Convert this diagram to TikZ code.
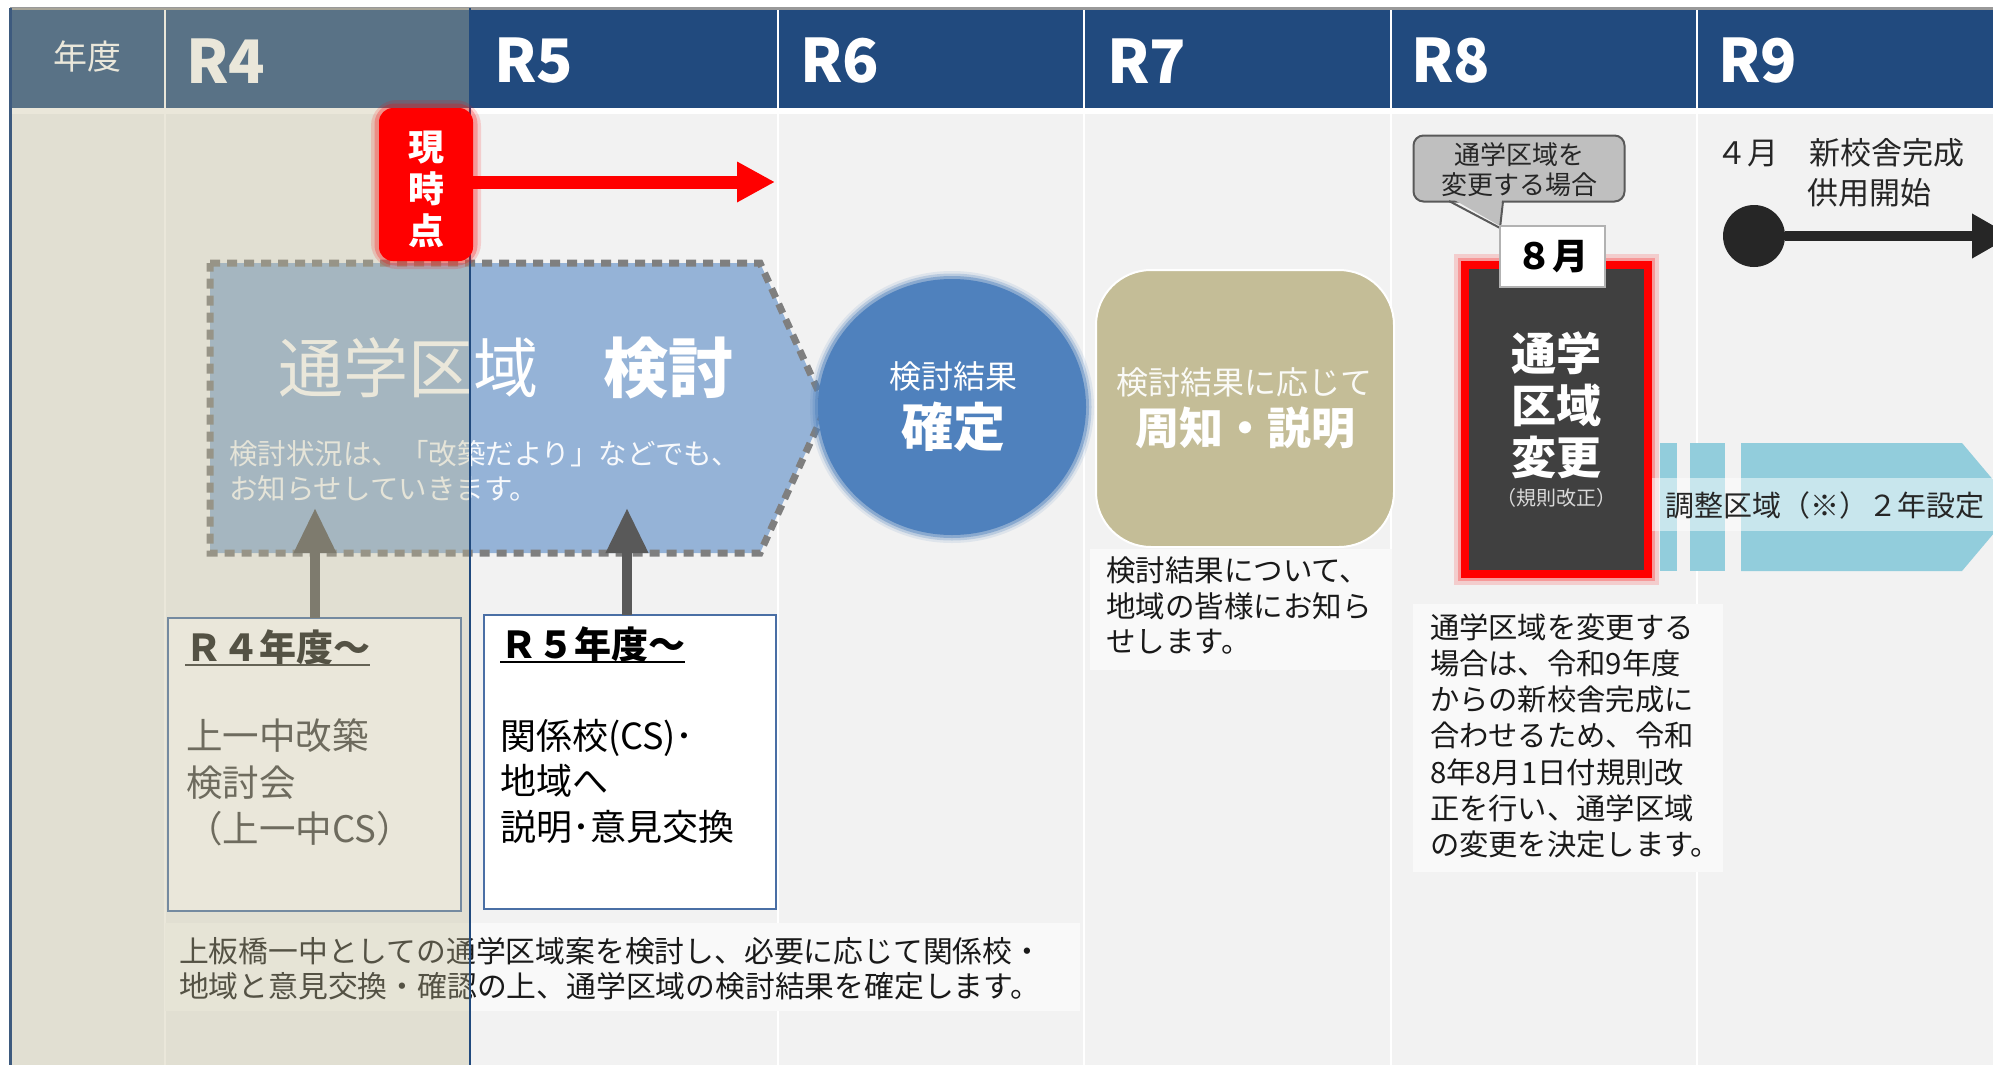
\documentclass[tikz,border=0pt]{standalone}
\usepackage{fontspec}
\setmainfont{Noto Sans CJK JP}
\setsansfont{Noto Sans CJK JP}
\usetikzlibrary{arrows.meta,shapes.geometric}
\definecolor{navy}{HTML}{214A7E}
\definecolor{bodybg}{HTML}{F2F2F2}
\definecolor{penta}{HTML}{95B3D7}
\definecolor{ellc}{HTML}{4F81BD}
\definecolor{tanc}{HTML}{C4BD97}
\definecolor{darkbox}{HTML}{404040}
\definecolor{ltblue}{HTML}{92CDDC}
\definecolor{bubble}{HTML}{BFBFBF}
\definecolor{boxborder}{HTML}{4A6FA5}
\definecolor{arrgray}{HTML}{595959}
\definecolor{dashgray}{HTML}{7F7F7F}
\definecolor{paper}{HTML}{F9F9F9}
\definecolor{nowred}{HTML}{FF0000}
\newcommand\fsz[2]{\fontsize{#1}{#2}\selectfont}
\begin{document}
\begin{tikzpicture}[x=1pt,y=-1pt,
  every node/.style={inner sep=0pt,outer sep=0pt},
  hdr/.style={anchor=west,text=white,font=\fsz{60}{70}\bfseries},
  colline/.style={white,line width=2.5pt},
  txt/.style={anchor=north west,align=left,text=black!90},
  uparr/.style={arrgray,line width=10pt,-{Triangle[length=45pt,width=40pt]}},
  paperbox/.style={fill=paper,anchor=north west},
  yearbox/.style={draw=boxborder,fill=white,line width=2pt,anchor=north west},
]
\useasboundingbox (0,0) rectangle (1993,1065);
\fill[white] (0,0) rectangle (1993,1065);
% body and header
\fill[bodybg] (10,114) rectangle (1993,1065);
\fill[navy] (10,10) rectangle (1993,108);
\draw[gray!80,line width=3pt] (10,9) -- (1993,9);
\foreach \cx in {165,470,778,1084,1391,1697} \draw[colline] (\cx,10) -- (\cx,1065);
\node[text=white,font=\fsz{34}{40}] (nendo) at (87,57) {年度};
\node[hdr] (r4) at (186,61) {R4};
\node[hdr] (r5) at (494,61) {R5};
\node[hdr] (r6) at (800,61) {R6};
\node[hdr] (r7) at (1107,61) {R7};
\node[hdr] (r8) at (1411,61) {R8};
\node[hdr] (r9) at (1718,61) {R9};

% pentagon
\filldraw[fill=penta,draw=dashgray,line width=7pt,dash pattern=on 10pt off 7pt]
  (210,263) -- (760,263) -- (826,408) -- (760,553) -- (210,553) -- cycle;
\node[anchor=west,text=white,font=\fsz{65}{70}] (ttl) at (278,368) {通学区域　{\bfseries 検討}};
\node[txt,text=white!92!penta,font=\fsz{28.5}{35}] (sub) at (229,440)
  {検討状況は、「改築だより」などでも、\\お知らせしていきます。};

% ellipse with soft edge
\fill[ellc,opacity=.12] (952,407) ellipse [x radius=142pt,y radius=136pt];
\fill[ellc,opacity=.25] (952,407) ellipse [x radius=139.5pt,y radius=133.5pt];
\fill[ellc,opacity=.45] (952,407) ellipse [x radius=137pt,y radius=131pt];
\node[ellipse,fill=ellc,minimum width=268pt,minimum height=256pt] (res) at (952,407) {};
\node[text=white,font=\fsz{32}{36}] (kk) at (953,376) {検討結果};
\node[text=white,font=\fsz{52}{60}\bfseries] (kt) at (953,427) {確定};

% R7
\node[rounded corners=55pt,fill=tanc,draw=white,line width=2pt,minimum width=298pt,minimum height=277pt] (tanbox) at (1245,408.5) {};
\node[text=white!92!tanc,font=\fsz{32}{36}] (tt1) at (1244,382) {検討結果に応じて};
\node[text=white,font=\fsz{44}{50}\bfseries] (tt2) at (1245,428) {周知・説明};
\node[paperbox,minimum width=302pt,minimum height=121pt] (r7note) at (1090,549) {};
\node[txt,font=\fsz{29.5}{35.5}] (r7txt) at (1106,557) {検討結果について、\\地域の皆様にお知ら\\せします。};

% R4 / R5 boxes and arrows
\node[yearbox,minimum width=293pt,minimum height=293pt] (r4box) at (168,618) {};
\node[yearbox,minimum width=292pt,minimum height=294pt] (r5box) at (484,615) {};
\coordinate (a1) at (315,508);
\coordinate (a2) at (627,508);
\draw[uparr] (a1 |- r4box.north) -- (a1);
\draw[uparr] (a2 |- r5box.north) -- (a2);
\node[anchor=west,font=\fsz{37}{40}\bfseries,text=black!90] (h4) at (185,647) {Ｒ４年度～};
\draw[line width=2pt,black!80] (h4.south west) -- (h4.south east);
\node[txt,text=darkbox,font=\fsz{36.5}{46.5}] (b4) at (186,719) {上一中改築\\検討会\\（上一中CS）};
\node[anchor=west,font=\fsz{37}{40}\bfseries,text=black] (h5) at (500,644) {Ｒ５年度～};
\draw[line width=2pt,black] (h5.south west) -- (h5.south east);
\node[txt,text=black,font=\fsz{36}{45.5}] (b5) at (500,719) {関係校(CS)･\\地域へ\\説明･意見交換};

% bottom note
\node[paperbox,minimum width=915pt,minimum height=88pt] (btmbox) at (165,923) {};
\node[txt,font=\fsz{29.8}{35}] (btmtxt) at (179,937)
  {上板橋一中としての通学区域案を検討し、必要に応じて関係校・\\地域と意見交換・確認の上、通学区域の検討結果を確定します。};

% R4 overlay
\fill[tanc,fill opacity=.35] (10,8) rectangle (470,1065);
\draw[navy,line width=2pt] (470,8) -- (470,1065);
\draw[navy!70!gray,line width=3pt] (10,8) -- (10,1065);

% now marker
\draw[nowred,opacity=.15,line width=16pt,rounded corners=18pt] (379,108) rectangle (473,261);
\draw[nowred,opacity=.25,line width=9pt,rounded corners=16pt] (379,108) rectangle (473,261);
\node[fill=nowred,rounded corners=14pt,minimum width=94pt,minimum height=153pt] (now) at (426,184.5) {};
\node[align=center,text=white,font=\fsz{36}{42}\bfseries] (nowt) at (426,189) {現\\時\\点};
\coordinate (redend) at (775,182);
\draw[nowred,line width=13pt,-{Triangle[length=38pt,width=38pt]}] (now.east |- redend) -- (redend);

% R8
\fill[ltblue] (1660,443) rectangle (1677,571);
\fill[ltblue] (1690,443) rectangle (1725,571);
\fill[ltblue] (1741,443) -- (1962,443) -- (2016,507) -- (1962,571) -- (1741,571) -- cycle;
\draw[nowred,opacity=.15,line width=22pt] (1465,265) rectangle (1648,574);
\draw[nowred,opacity=.25,line width=14pt] (1465,265) rectangle (1648,574);
\node[fill=darkbox,draw=nowred,line width=8pt,minimum width=183pt,minimum height=309pt] (chg) at (1556.5,419.5) {};
\node[align=center,text=white,font=\fsz{45}{52}\bfseries] (chgt) at (1556,405) {通学\\区域\\変更};
\node[text=white!80!darkbox,font=\fsz{20}{24}] (kisoku) at (1556,498) {（規則改正）};
\fill[white,opacity=.5] (1652,478) rectangle (1993,531);
\node[anchor=west,text=black!85,font=\fsz{29}{32}] (adj) at (1665,505) {調整区域（※）２年設定};

\node[rounded corners=10pt,fill=bubble,draw=black!65,line width=2pt,minimum width=211pt,minimum height=66pt] (bub) at (1519,168.5) {};
\fill[bubble] (1451,198) -- (1500,226) -- (1502,198) -- cycle;
\draw[black!65,line width=2pt] (1449,201) -- (1500,228) -- (1503,201);
\node[align=center,text=black!85,font=\fsz{26}{30}] (bubt) at (1519,170) {通学区域を\\変更する場合};
\node[draw=gray!60,fill=white,line width=1.5pt,minimum width=105pt,minimum height=61pt,font=\fsz{36}{40}\bfseries] (aug) at (1552.5,256.5) {８月};

\node[paperbox,minimum width=310pt,minimum height=268pt] (r8note) at (1413,604) {};
\node[txt,font=\fsz{29.3}{36.2}] (r8txt) at (1430,613.5)
  {通学区域を変更する\\場合は、令和9年度\\からの新校舎完成に\\合わせるため、令和\\8年8月1日付規則改\\正を行い、通学区域\\の変更を決定します。};

% R9
\node[anchor=west,text=black!85,font=\fsz{31}{36}] (apr) at (1716,153) {４月　新校舎完成};
\node[anchor=west,text=black!85,font=\fsz{31}{36}] (use) at (1807,193) {供用開始};
\node[circle,fill=black!85,minimum size=62pt] (dot) at (1754,236) {};
\coordinate (blkend) at (2012,236);
\draw[black!85,line width=10pt,-{Triangle[length=40pt,width=42pt]}] (dot.east) -- (blkend);
\end{tikzpicture}
\end{document}
